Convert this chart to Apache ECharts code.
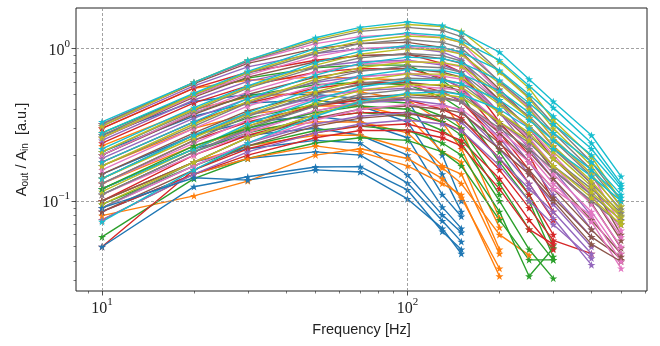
<!DOCTYPE html>
<html>
<head>
<meta charset="utf-8">
<script src="https://cdn.jsdelivr.net/npm/echarts@6/dist/echarts.min.js"></script>
<style>
html,body{margin:0;padding:0;background:#fff;}
#chart{width:660px;height:346px;}
</style>
</head>
<body>
<div id="chart"></div>
<script>
// Frequencies (Hz)
const freqs = [10, 20, 30, 50, 70, 100, 130, 150, 200, 250, 300, 400, 500];

// Measured amplitude ratios, one group per colour (each row = one curve)
const blueLines = [
  [0.27, 0.45, 0.50, 0.50, 0.47, 0.46, 0.20, 0.10],
  [0.21, 0.36, 0.44, 0.46, 0.42, 0.33, 0.15, 0.085],
  [0.15, 0.27, 0.33, 0.36, 0.33, 0.26, 0.11, 0.079],
  [0.12, 0.22, 0.27, 0.30, 0.27, 0.20, 0.091, 0.066],
  [0.10, 0.18, 0.22, 0.25, 0.24, 0.148, 0.081, 0.062],
  [0.085, 0.15, 0.19, 0.21, 0.20, 0.131, 0.074, 0.054],
  [0.05, 0.124, 0.144, 0.167, 0.168, 0.118, 0.063, 0.048],
  [0.09, 0.142, 0.137, 0.16, 0.155, 0.103, 0.066, 0.045]
];
const orangeLines = [
  [0.30, 0.55, 0.62, 0.65, 0.64, 0.62, 0.45, 0.30, 0.077],
  [0.23, 0.40, 0.48, 0.52, 0.52, 0.46, 0.33, 0.22, 0.067],
  [0.17, 0.30, 0.37, 0.42, 0.42, 0.36, 0.21, 0.18, 0.048],
  [0.13, 0.23, 0.29, 0.33, 0.33, 0.28, 0.17, 0.15, 0.045],
  [0.10, 0.18, 0.23, 0.27, 0.27, 0.22, 0.165, 0.13, 0.06, 0.044],
  [0.08, 0.108, 0.135, 0.20, 0.22, 0.19, 0.14, 0.105, 0.036],
  [0.075, 0.15, 0.19, 0.23, 0.21, 0.17, 0.13, 0.11, 0.032]
];
const greenLines = [
  [0.28, 0.50, 0.64, 0.75, 0.78, 0.78, 0.62, 0.50, 0.21, 0.11, 0.051],
  [0.20, 0.38, 0.49, 0.58, 0.60, 0.58, 0.48, 0.40, 0.18, 0.10, 0.043],
  [0.14, 0.27, 0.35, 0.43, 0.46, 0.44, 0.36, 0.30, 0.13, 0.065, 0.041],
  [0.11, 0.21, 0.28, 0.35, 0.38, 0.36, 0.29, 0.24, 0.10, 0.048, 0.031],
  [0.095, 0.17, 0.23, 0.29, 0.31, 0.29, 0.24, 0.20, 0.085, 0.032, 0.049],
  [0.058, 0.14, 0.19, 0.24, 0.26, 0.25, 0.21, 0.17, 0.075, 0.041, 0.041],
  [0.12, 0.23, 0.30, 0.38, 0.42, 0.40, 0.33, 0.27, 0.11]
];
const redLines = [
  [0.30, 0.55, 0.70, 0.84, 0.90, 0.92, 0.80, 0.70, 0.33, 0.20, 0.10],
  [0.24, 0.44, 0.57, 0.70, 0.74, 0.74, 0.64, 0.55, 0.28, 0.16, 0.085],
  [0.18, 0.33, 0.44, 0.55, 0.60, 0.60, 0.52, 0.45, 0.245, 0.13, 0.075],
  [0.13, 0.25, 0.33, 0.42, 0.46, 0.46, 0.40, 0.35, 0.19, 0.11, 0.060],
  [0.10, 0.20, 0.27, 0.35, 0.38, 0.38, 0.33, 0.29, 0.16, 0.09, 0.055, 0.045],
  [0.05, 0.16, 0.22, 0.28, 0.31, 0.32, 0.28, 0.25, 0.14, 0.075, 0.048],
  [0.085, 0.15, 0.20, 0.26, 0.29, 0.29, 0.26, 0.23, 0.12, 0.065, 0.052]
];
const purpleLines = [
  [0.31, 0.57, 0.76, 0.93, 1.00, 1.02, 0.95, 0.85, 0.44, 0.26, 0.16, 0.08],
  [0.25, 0.46, 0.61, 0.76, 0.82, 0.84, 0.78, 0.70, 0.38, 0.22, 0.14, 0.065],
  [0.19, 0.35, 0.47, 0.60, 0.66, 0.68, 0.63, 0.56, 0.31, 0.18, 0.11, 0.058],
  [0.14, 0.27, 0.37, 0.48, 0.53, 0.55, 0.51, 0.46, 0.26, 0.15, 0.095, 0.05],
  [0.11, 0.21, 0.29, 0.39, 0.44, 0.46, 0.43, 0.39, 0.22, 0.13, 0.077, 0.038],
  [0.09, 0.17, 0.24, 0.32, 0.36, 0.38, 0.36, 0.33, 0.19, 0.12, 0.085, 0.045],
  [0.075, 0.15, 0.21, 0.28, 0.32, 0.34, 0.32, 0.29, 0.17, 0.10, 0.07, 0.042]
];
const brownLines = [
  [0.32, 0.59, 0.80, 1.00, 1.08, 1.10, 1.02, 0.95, 0.54, 0.35, 0.227, 0.13, 0.060],
  [0.26, 0.48, 0.65, 0.82, 0.90, 0.92, 0.86, 0.80, 0.46, 0.30, 0.19, 0.11, 0.055],
  [0.20, 0.37, 0.50, 0.65, 0.72, 0.74, 0.70, 0.65, 0.38, 0.25, 0.16, 0.097, 0.049],
  [0.15, 0.28, 0.39, 0.51, 0.58, 0.60, 0.57, 0.53, 0.32, 0.21, 0.14, 0.075, 0.045],
  [0.12, 0.22, 0.31, 0.42, 0.48, 0.50, 0.48, 0.45, 0.28, 0.18, 0.12, 0.065, 0.041],
  [0.10, 0.18, 0.26, 0.35, 0.40, 0.42, 0.40, 0.38, 0.24, 0.16, 0.105, 0.058, 0.043],
  [0.085, 0.16, 0.23, 0.31, 0.35, 0.37, 0.36, 0.34, 0.22, 0.15, 0.10, 0.052, 0.040]
];
const pinkLines = [
  [0.32, 0.60, 0.82, 1.08, 1.20, 1.25, 1.18, 1.10, 0.60, 0.41, 0.26, 0.15, 0.070],
  [0.26, 0.49, 0.67, 0.89, 1.00, 1.04, 0.99, 0.93, 0.52, 0.35, 0.23, 0.13, 0.064],
  [0.20, 0.38, 0.52, 0.70, 0.79, 0.83, 0.80, 0.76, 0.44, 0.30, 0.20, 0.11, 0.058],
  [0.16, 0.30, 0.42, 0.57, 0.65, 0.69, 0.66, 0.63, 0.38, 0.26, 0.17, 0.095, 0.05],
  [0.13, 0.24, 0.34, 0.47, 0.54, 0.57, 0.55, 0.53, 0.33, 0.23, 0.15, 0.085, 0.045],
  [0.11, 0.20, 0.28, 0.39, 0.45, 0.48, 0.47, 0.45, 0.29, 0.20, 0.13, 0.073, 0.036],
  [0.09, 0.17, 0.24, 0.34, 0.40, 0.43, 0.42, 0.40, 0.26, 0.18, 0.12, 0.08, 0.040]
];
const grayLines = [
  [0.32, 0.60, 0.83, 1.12, 1.30, 1.38, 1.32, 1.20, 0.71, 0.48, 0.32, 0.18, 0.10],
  [0.27, 0.50, 0.69, 0.93, 1.08, 1.15, 1.10, 1.01, 0.61, 0.42, 0.28, 0.16, 0.092],
  [0.21, 0.39, 0.55, 0.75, 0.87, 0.93, 0.90, 0.83, 0.51, 0.36, 0.25, 0.145, 0.088],
  [0.17, 0.31, 0.44, 0.61, 0.71, 0.77, 0.75, 0.70, 0.44, 0.31, 0.22, 0.13, 0.083],
  [0.13, 0.25, 0.36, 0.50, 0.59, 0.64, 0.63, 0.59, 0.38, 0.27, 0.19, 0.12, 0.079],
  [0.11, 0.21, 0.30, 0.42, 0.50, 0.54, 0.53, 0.50, 0.33, 0.24, 0.17, 0.11, 0.075],
  [0.09, 0.18, 0.26, 0.37, 0.44, 0.48, 0.47, 0.45, 0.30, 0.22, 0.16, 0.10, 0.070]
];
const oliveLines = [
  [0.31, 0.60, 0.84, 1.15, 1.34, 1.44, 1.40, 1.30, 0.82, 0.55, 0.34, 0.195, 0.10],
  [0.26, 0.50, 0.70, 0.96, 1.12, 1.21, 1.18, 1.10, 0.70, 0.47, 0.30, 0.17, 0.092],
  [0.21, 0.40, 0.56, 0.78, 0.92, 1.00, 0.98, 0.92, 0.59, 0.40, 0.26, 0.15, 0.085],
  [0.17, 0.32, 0.45, 0.63, 0.75, 0.82, 0.81, 0.77, 0.50, 0.35, 0.23, 0.135, 0.080],
  [0.14, 0.26, 0.37, 0.52, 0.62, 0.68, 0.68, 0.65, 0.43, 0.31, 0.21, 0.125, 0.078],
  [0.115, 0.22, 0.31, 0.44, 0.53, 0.58, 0.58, 0.56, 0.38, 0.28, 0.19, 0.115, 0.074],
  [0.095, 0.18, 0.26, 0.37, 0.45, 0.50, 0.50, 0.48, 0.33, 0.25, 0.17, 0.105, 0.070]
];
const cyanLines = [
  [0.33, 0.60, 0.84, 1.18, 1.38, 1.50, 1.42, 1.28, 0.95, 0.63, 0.45, 0.27, 0.145],
  [0.28, 0.51, 0.71, 1.00, 1.17, 1.27, 1.22, 1.12, 0.84, 0.57, 0.41, 0.24, 0.13],
  [0.22, 0.41, 0.57, 0.81, 0.96, 1.05, 1.02, 0.95, 0.72, 0.50, 0.36, 0.22, 0.125],
  [0.18, 0.33, 0.47, 0.67, 0.80, 0.88, 0.86, 0.81, 0.62, 0.44, 0.32, 0.20, 0.12],
  [0.14, 0.27, 0.38, 0.55, 0.66, 0.73, 0.72, 0.68, 0.53, 0.38, 0.28, 0.18, 0.11],
  [0.12, 0.22, 0.32, 0.46, 0.56, 0.62, 0.62, 0.59, 0.46, 0.34, 0.25, 0.16, 0.105],
  [0.073, 0.16, 0.24, 0.36, 0.45, 0.51, 0.52, 0.50, 0.40, 0.30, 0.22, 0.145, 0.10]
];

// Tick values
const xMajorTicks = [10, 100];
const xMinorTicks = [9, 20, 30, 40, 50, 60, 70, 80, 90, 200, 300, 400, 500, 600];
const yMajorTicks = [0.1, 1];
const yMinorTicks = [0.03, 0.04, 0.05, 0.06, 0.07, 0.08, 0.09, 0.2, 0.3, 0.4, 0.5, 0.6, 0.7, 0.8, 0.9];
const xExponentLabels = {10: '1', 100: '2'};
const yExponentLabels = {0.1: '\u22121', 1: '0'};

const groups = [blueLines, orangeLines, greenLines, redLines, purpleLines,
                brownLines, pinkLines, grayLines, oliveLines, cyanLines];
const palette = ['#1f77b4', '#ff7f0e', '#2ca02c', '#d62728', '#9467bd',
                 '#8c564b', '#e377c2', '#7f7f7f', '#bcbd22', '#17becf'];

const starPath = 'path://M0,-100 L22.45,-30.9 L95.1,-30.9 L36.3,11.8 L58.8,80.9 L0,38.2 L-58.8,80.9 L-36.3,11.8 L-95.1,-30.9 L-22.45,-30.9 Z';

const X_MIN = 8.22, X_MAX = 608, Y_MIN = 0.0256, Y_MAX = 1.85;

const series = [{
  type: 'line',
  data: [],
  silent: true,
  z: 1,
  markLine: {
    silent: true,
    symbol: ['none', 'none'],
    label: {show: false},
    animation: false,
    lineStyle: {type: [3, 2], color: '#8a8a8a', width: 0.8},
    data: [
      {xAxis: xMajorTicks[0]}, {xAxis: xMajorTicks[1]},
      {yAxis: yMajorTicks[0]}, {yAxis: yMajorTicks[1]}
    ]
  }
}];

const maxLevels = Math.max(...groups.map(g => g.length));
for (let i = 0; i < maxLevels; i++) {
  groups.forEach((g, gi) => {
    if (i >= g.length) return;
    const vals = g[i];
    series.push({
      type: 'line',
      data: vals.map((v, k) => [freqs[k], v]),
      color: palette[gi],
      lineStyle: {width: 1.4, color: palette[gi]},
      itemStyle: {color: palette[gi]},
      symbol: starPath,
      symbolKeepAspect: true,
      symbolSize: 8,
      showSymbol: true,
      silent: true,
      z: 2,
      animation: false
    });
  });
}

const serifFont = 'Liberation Serif';
const richTicks = {
  n: {fontFamily: serifFont, fontSize: 16, color: '#222', lineHeight: 20, verticalAlign: 'bottom'},
  s: {fontFamily: serifFont, fontSize: 11, color: '#222', lineHeight: 20, verticalAlign: 'top'}
};

const chart = echarts.init(document.getElementById('chart'), null, {renderer: 'canvas'});
chart.setOption({
  animation: false,
  backgroundColor: '#ffffff',
  grid: {left: 76, right: 13, top: 8, bottom: 55, show: true, borderColor: '#222', borderWidth: 1, backgroundColor: 'transparent'},
  xAxis: [{
    type: 'log', logBase: 10, min: X_MIN, max: X_MAX,
    position: 'bottom',
    axisLine: {show: false},
    splitLine: {show: false},
    minorTick: {show: false},
    axisTick: {show: true, inside: false, length: 4.5, lineStyle: {color: '#222', width: 0.8}, customValues: xMajorTicks},
    axisLabel: {
      show: true, margin: 6, customValues: xMajorTicks,
      formatter: v => '{n|10}{s|' + (xExponentLabels[Math.round(v)] || '') + '}',
      rich: richTicks
    },
    name: 'Frequency [Hz]',
    nameLocation: 'middle',
    nameGap: 31,
    nameTextStyle: {fontFamily: 'Liberation Sans', fontSize: 14.5, color: '#222'}
  }, {
    type: 'log', logBase: 10, min: X_MIN, max: X_MAX,
    position: 'bottom',
    axisLine: {show: false},
    splitLine: {show: false},
    axisTick: {show: true, inside: false, length: 2.5, lineStyle: {color: '#222', width: 0.6}, customValues: xMinorTicks},
    axisLabel: {show: false}
  }],
  yAxis: [{
    type: 'log', logBase: 10, min: Y_MIN, max: Y_MAX,
    position: 'left',
    axisLine: {show: false},
    splitLine: {show: false},
    minorTick: {show: false},
    axisTick: {show: true, inside: false, length: 4.5, lineStyle: {color: '#222', width: 0.8}, customValues: yMajorTicks},
    axisLabel: {
      show: true, margin: 6, customValues: yMajorTicks,
      formatter: v => '{n|10}{s|' + (v < 0.5 ? yExponentLabels[0.1] : yExponentLabels[1]) + '}',
      rich: richTicks
    },
    name: 'A{sub|out} / A{sub|in}  [a.u.]',
    nameLocation: 'middle',
    nameGap: 46,
    nameRotate: 90,
    nameTextStyle: {
      fontFamily: 'Liberation Sans', fontSize: 14.5, color: '#222',
      rich: {sub: {fontFamily: 'Liberation Sans', fontSize: 10, color: '#222', verticalAlign: 'bottom', padding: [6, 0, 0, 0]}}
    }
  }, {
    type: 'log', logBase: 10, min: Y_MIN, max: Y_MAX,
    position: 'left',
    axisLine: {show: false},
    splitLine: {show: false},
    axisTick: {show: true, inside: false, length: 2.5, lineStyle: {color: '#222', width: 0.6}, customValues: yMinorTicks},
    axisLabel: {show: false}
  }],
  series: series
});
</script>
</body>
</html>
